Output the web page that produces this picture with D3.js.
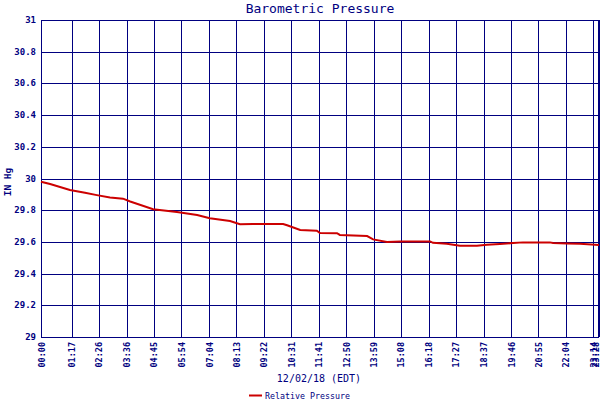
<!DOCTYPE html>
<html>
<head>
<meta charset="utf-8">
<script src="https://cdn.jsdelivr.net/npm/d3@7"></script>
<style>
  body { margin: 0; background: #fff; }
  text { font-family: "DejaVu Sans Mono", monospace; fill: #000080; }
</style>
</head>
<body>
<div class="chart"></div>
<script>
// time of day in minutes, pressure in inHg
const minutes = [0, 23, 73, 111, 141, 174, 207, 225, 283, 343, 394, 426, 477, 502, 535, 611, 621, 654, 696, 704, 747, 754, 823, 838, 873, 906, 982, 989, 1024, 1057, 1100, 1125, 1158, 1191, 1216, 1284, 1292, 1327, 1360, 1408];
const pressure = [29.98, 29.965, 29.927, 29.91, 29.895, 29.88, 29.873, 29.855, 29.806, 29.789, 29.77, 29.749, 29.732, 29.711, 29.713, 29.713, 29.705, 29.675, 29.671, 29.656, 29.655, 29.644, 29.637, 29.616, 29.599, 29.603, 29.603, 29.594, 29.588, 29.576, 29.576, 29.582, 29.587, 29.593, 29.597, 29.597, 29.593, 29.59, 29.588, 29.58];
const timeTicks = ['00:00', '01:17', '02:26', '03:36', '04:45', '05:54', '07:04', '08:13', '09:22', '10:31', '11:41', '12:50', '13:59', '15:08', '16:18', '17:27', '18:37', '19:46', '20:55', '22:04', '23:14', '23:28'];
const pressureTicks = [29, 29.2, 29.4, 29.6, 29.8, 30, 30.2, 30.4, 30.6, 30.8, 31];

const w = 600;
const h = 400;
const margin = { top: 20, right: 1, bottom: 63, left: 41 };
const navy = '#000080';

const toMin = s => +s.slice(0, 2) * 60 + +s.slice(3);

const x = d3.scaleLinear().domain([0, 1408]).range([margin.left, w - margin.right]);
const y = d3.scaleLinear().domain([29, 31]).range([h - margin.bottom, margin.top]);

const svg = d3.select('.chart')
  .append('svg')
  .attr('width', w)
  .attr('height', h);

// grid
svg.append('g')
  .selectAll('line')
  .data(pressureTicks)
  .enter()
  .append('line')
  .attr('x1', x(0))
  .attr('x2', x(1408))
  .attr('y1', d => Math.round(y(d)) + 0.5)
  .attr('y2', d => Math.round(y(d)) + 0.5)
  .attr('stroke', navy)
  .attr('shape-rendering', 'crispEdges');

svg.append('g')
  .selectAll('line')
  .data(timeTicks)
  .enter()
  .append('line')
  .attr('x1', d => Math.round(x(toMin(d))) + 0.5)
  .attr('x2', d => Math.round(x(toMin(d))) + 0.5)
  .attr('y1', y(29))
  .attr('y2', y(31))
  .attr('stroke', navy)
  .attr('shape-rendering', 'crispEdges');

svg.append('rect')
  .attr('x', x(0) + 0.5)
  .attr('y', Math.round(y(31)) + 0.5)
  .attr('width', x(1408) - x(0) - 1)
  .attr('height', Math.round(y(29)) - Math.round(y(31)))
  .attr('fill', 'none')
  .attr('stroke', navy)
  .attr('shape-rendering', 'crispEdges');

// data line
const line = d3.line()
  .x((d, i) => x(minutes[i]))
  .y(d => y(d));

svg.append('path')
  .datum(pressure)
  .attr('fill', 'none')
  .attr('stroke', '#cc0000')
  .attr('stroke-width', 2)
  .attr('d', line);

// y tick labels
svg.append('g')
  .selectAll('text')
  .data(pressureTicks)
  .enter()
  .append('text')
  .attr('x', 36)
  .attr('y', d => y(d) + 3)
  .attr('text-anchor', 'end')
  .attr('font-size', 9)
  .attr('font-weight', 'bold')
  .text(d => d3.format('')(+d.toFixed(1)));

// x tick labels
svg.append('g')
  .selectAll('text')
  .data(timeTicks)
  .enter()
  .append('text')
  .attr('transform', d => `translate(${Math.min(x(toMin(d)) + 3.5, 598.5)},342) rotate(-90)`)
  .attr('text-anchor', 'end')
  .attr('font-size', 8.5)
  .attr('font-weight', 'bold')
  .text(d => d);

svg.append('text')
  .attr('x', 320)
  .attr('y', 13)
  .attr('text-anchor', 'middle')
  .attr('font-size', 13)
  .text('Barometric Pressure');

svg.append('text')
  .attr('x', 319)
  .attr('y', 382)
  .attr('text-anchor', 'middle')
  .attr('font-size', 10)
  .text('12/02/18 (EDT)');

svg.append('text')
  .attr('transform', 'translate(11,182) rotate(-90)')
  .attr('text-anchor', 'middle')
  .attr('font-size', 9.5)
  .attr('font-weight', 'bold')
  .text('IN Hg');

// legend
svg.append('line')
  .attr('x1', 249)
  .attr('x2', 262)
  .attr('y1', 395.5)
  .attr('y2', 395.5)
  .attr('stroke', '#cc0000')
  .attr('stroke-width', 2);

svg.append('text')
  .attr('x', 265)
  .attr('y', 398.5)
  .attr('font-size', 8.3)
  .text('Relative Pressure');
</script>
</body>
</html>
